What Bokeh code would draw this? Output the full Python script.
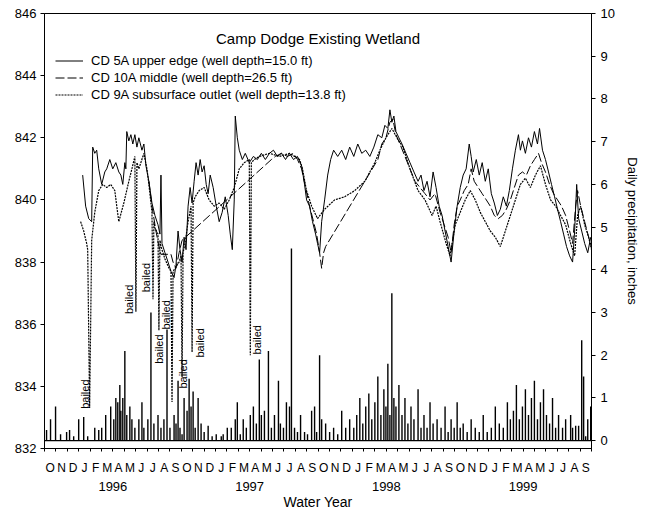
import math
from bokeh.plotting import figure
from bokeh.models import (Range1d, LinearAxis, FixedTicker, Label, Span, Legend,
                          LegendItem, Arrow)
from bokeh.embed import file_html
from bokeh.resources import INLINE

FONT = "Liberation Sans"

# ---------------- data (x = months since 1 Oct 1995) ----------------
month_letters = ["O", "N", "D", "J", "F", "M", "A", "M", "J", "J", "A", "S"]
water_years = ["1996", "1997", "1998", "1999"]

cd5a_m = [3.35, 3.61, 3.88, 4.14, 4.23, 4.41, 4.58, 4.76, 5.02, 5.29, 5.46, 5.73, 5.99, 6.26, 6.52,
          6.70, 6.87, 7.05, 7.14, 7.22, 7.40, 7.58, 7.75, 7.93, 8.11, 8.28, 8.55, 8.72, 8.90, 9.16,
          9.43, 9.69, 9.96, 10.13, 10.22, 10.31, 10.57, 10.84, 11.10, 11.37, 11.54, 11.72, 11.89,
          12.07, 12.25, 12.42, 12.60, 12.78, 12.95, 13.13, 13.30, 13.48, 13.66, 13.83, 14.01, 14.19,
          14.36, 14.54, 14.80, 15.07, 15.33, 15.59, 15.86, 16.12, 16.30, 16.48, 16.65, 16.74, 16.92,
          17.09, 17.36, 17.62, 17.97, 18.33, 18.68, 19.03, 19.38, 19.74, 20.09, 20.44, 20.79, 21.15,
          21.50, 21.85, 22.20, 22.56, 22.82, 23.00, 23.26, 23.52, 23.79, 23.96, 24.14, 24.32, 24.58,
          24.85, 25.11, 25.37, 25.73, 26.08, 26.43, 26.78, 27.14, 27.49, 27.84, 28.19, 28.55, 28.90,
          29.25, 29.60, 29.87, 30.13, 30.31, 30.48, 30.66, 30.84, 31.10, 31.37, 31.72, 32.07, 32.42,
          32.78, 33.04, 33.30, 33.57, 33.83, 34.10, 34.36, 34.63, 34.89, 35.15, 35.42, 35.68, 35.95,
          36.21, 36.48, 36.74, 37.00, 37.27, 37.44, 37.62, 37.89, 38.15, 38.41, 38.68, 38.94, 39.21,
          39.47, 39.74, 40.00, 40.26, 40.53, 40.79, 41.06, 41.32, 41.59, 41.76, 41.94, 42.20, 42.47,
          42.73, 42.99, 43.26, 43.44, 43.70, 43.96, 44.23, 44.49, 44.76, 45.02, 45.29, 45.55, 45.81,
          46.08, 46.34, 46.52, 46.70, 46.87, 47.14, 47.40, 47.67, 47.93]
cd5a_ft = [840.8, 839.8, 839.4, 839.3, 841.7, 841.5, 841.6, 841.0, 840.5, 840.9, 841.0, 841.3, 841.0,
           841.2, 840.9, 840.8, 840.5, 841.2, 841.0, 842.2, 841.9, 842.1, 841.8, 842.1, 841.7, 842.0,
           841.6, 841.8, 841.1, 840.6, 839.9, 839.5, 839.2, 838.9, 840.8, 838.6, 838.3, 838.0, 837.7,
           837.5, 837.9, 839.0, 838.4, 838.0, 838.8, 838.4, 839.8, 840.4, 839.9, 840.6, 841.2, 840.8,
           841.3, 840.9, 841.1, 840.5, 840.2, 840.8, 840.4, 839.8, 839.3, 839.6, 840.1, 839.5, 838.9,
           838.4, 840.0, 842.7, 842.0, 841.6, 841.3, 841.5, 841.2, 841.4, 841.3, 841.5, 841.3, 841.5,
           841.6, 841.4, 841.5, 841.3, 841.5, 841.3, 841.4, 841.1, 840.5, 840.0, 839.8, 839.3, 838.9,
           838.6, 838.3, 839.3, 840.0, 840.8, 841.3, 841.6, 841.4, 841.6, 841.3, 841.7, 841.4, 841.8,
           841.5, 841.6, 841.4, 841.7, 842.1, 842.0, 842.4, 842.3, 842.9, 842.5, 842.7, 842.2, 842.0,
           841.8, 841.5, 841.2, 840.9, 840.6, 840.8, 840.3, 840.6, 840.1, 840.9, 840.4, 839.8, 839.5,
           839.0, 838.5, 838.0, 839.0, 839.8, 840.4, 840.8, 841.0, 841.8, 841.4, 840.9, 841.3, 840.8,
           841.2, 840.6, 841.0, 840.2, 839.9, 839.5, 839.7, 840.1, 839.8, 840.3, 841.0, 841.6, 842.1,
           841.6, 841.9, 841.5, 842.0, 841.7, 842.2, 841.8, 842.3, 841.6, 841.3, 840.9, 840.5, 840.1,
           839.7, 839.3, 838.9, 838.5, 838.2, 838.0, 839.0, 840.5, 839.4, 839.0, 838.6, 838.3, 838.8]

cd10a_m = [9.16, 9.43, 9.78, 10.04, 10.22, 11.10, 11.28, 11.54, 11.81, 12.07, 19.91, 20.26, 20.79,
           21.32, 21.85, 22.20, 22.56, 22.91, 23.26, 23.61, 23.88, 24.14, 24.32, 24.49, 24.67, 29.25,
           29.60, 29.96, 30.31, 30.57, 30.84, 31.19, 31.63, 32.07, 32.51, 32.95, 33.39, 33.83, 34.27,
           34.71, 35.07, 35.42, 35.68, 35.95, 36.21, 36.48, 36.83, 37.18, 37.44, 37.71, 38.06, 38.41,
           38.77, 39.12, 39.47, 39.82, 40.18, 40.53, 40.88, 41.23, 41.59, 41.94, 42.29, 42.64, 42.99,
           43.35, 43.61, 43.96, 44.32, 44.67, 45.02, 45.37, 45.73, 46.08, 46.34, 46.61, 46.78, 47.05,
           47.40, 47.75, 48.00]
cd10a_ft = [840.6, 839.8, 839.0, 838.5, 838.25, 838.25, 838.0, 837.8, 838.3, 838.7, 841.3, 841.4,
            841.5, 841.4, 841.5, 841.3, 841.0, 840.4, 839.8, 839.3, 838.9, 838.3, 837.8, 838.3,
            838.5, 841.3, 841.8, 842.0, 842.5, 842.6, 842.1, 841.8, 841.4, 841.0, 840.6, 840.4,
            840.2, 840.0, 840.2, 839.6, 839.2, 838.8, 838.3, 839.2, 839.8, 840.0, 840.3, 840.5,
            841.0, 840.6, 840.4, 840.2, 840.0, 839.8, 839.5, 839.4, 839.5, 839.7, 840.0, 840.4,
            840.8, 840.9, 840.8, 841.1, 841.3, 841.5, 841.2, 840.9, 840.5, 840.2, 840.0, 839.8,
            839.5, 839.0, 838.6, 839.8, 840.3, 839.8, 839.3, 838.8, 838.5]

cd9a_m = [3.17, 3.44, 3.70, 3.79, 3.96, 4.14, 4.41, 4.76, 5.11, 5.46, 5.81, 6.17, 6.34, 6.52, 6.96,
          7.40, 7.67, 7.93, 8.02, 8.11, 8.28, 8.72, 8.99, 9.16, 9.43, 9.52, 9.60, 9.69, 9.96, 10.04,
          10.13, 10.22, 10.57, 10.93, 11.10, 11.19, 11.28, 11.45, 11.81, 11.98, 12.07, 12.16, 12.33,
          12.60, 12.86, 12.95, 13.04, 13.22, 13.57, 14.01, 14.45, 14.89, 15.33, 15.77, 16.21, 16.65,
          17.09, 17.53, 17.97, 18.06, 18.15, 18.41, 18.85, 19.74, 20.62, 21.50, 22.38, 22.64, 22.99,
          23.44, 23.96, 24.58, 25.46, 26.34, 27.22, 28.11, 28.99, 29.43, 29.96, 30.48, 30.93, 31.45,
          32.07, 32.78, 33.39, 34.01, 34.36, 34.71, 35.24, 35.59, 36.04, 36.48, 36.92, 37.36, 37.80,
          38.24, 38.68, 39.12, 39.56, 40.00, 40.44, 40.88, 41.32, 41.76, 42.20, 42.64, 43.08, 43.52,
          43.96, 44.41, 44.85, 45.29, 45.73, 46.17, 46.52, 46.78, 47.05, 47.40, 47.75, 48.00]
cd9a_ft = [839.3, 839.0, 838.6, 838.4, 833.3, 838.7, 839.6, 840.3, 840.5, 840.4, 840.5, 840.3, 839.8,
           839.3, 839.9, 840.6, 841.0, 841.4, 836.4, 841.2, 841.0, 841.5, 841.0, 840.5, 839.6, 836.8,
           839.3, 839.1, 838.9, 835.8, 838.7, 838.5, 838.1, 837.8, 837.7, 833.5, 837.7, 837.8, 838.0,
           838.2, 834.3, 838.3, 838.6, 839.3, 839.8, 835.1, 839.9, 840.1, 840.3, 840.4, 840.0, 839.8,
           839.9, 839.7, 840.0, 840.4, 841.0, 841.2, 841.3, 835.0, 841.2, 841.3, 841.4, 841.5, 841.4,
           841.5, 841.3, 841.0, 840.3, 839.8, 839.4, 839.7, 840.0, 840.1, 840.3, 840.6, 841.2, 841.6,
           842.0, 842.3, 842.0, 841.7, 841.0, 840.3, 840.0, 839.5, 839.8, 839.3, 838.6, 838.2, 839.2,
           839.6, 840.0, 840.3, 840.0, 839.6, 839.3, 839.0, 838.8, 838.5, 839.0, 839.5, 840.0, 840.5,
           840.7, 840.4, 840.8, 841.1, 840.5, 840.0, 839.8, 839.5, 839.2, 838.6, 838.2, 839.5, 839.8,
           839.2, 838.8, 838.4]

# bailing events (annotation anchor: month, ft)
bailed_m = [3.52, 7.40, 8.90, 10.04, 10.66, 12.16, 13.66, 18.68]
bailed_ft = [833.75, 836.8, 837.5, 835.2, 836.3, 834.4, 835.4, 835.5]

rain_m = [0.18, 0.53, 0.97, 1.41, 1.94, 2.20, 2.56, 3.00, 3.44, 3.79, 4.41, 4.76, 5.02, 5.37, 5.81,
          6.08, 6.26, 6.43, 6.61, 6.70, 6.87, 7.05, 7.22, 7.49, 7.67, 7.93, 8.28, 8.55, 8.72, 9.07,
          9.34, 9.60, 9.96, 10.22, 10.48, 10.75, 11.01, 11.37, 11.54, 11.72, 11.89, 12.07,
          12.25, 12.51, 12.69, 12.86, 13.04, 13.22, 13.48, 13.74, 14.01, 14.36, 14.71, 15.07, 15.51,
          15.68, 16.04, 16.39, 16.74, 16.92, 17.18, 17.44, 17.71, 18.06, 18.33, 18.59, 18.85, 19.03,
          19.30, 19.65, 19.91, 20.18, 20.53, 20.70, 20.97, 21.23, 21.50, 21.67, 21.94, 22.20, 22.47,
          22.82, 23.08, 23.44, 23.70, 23.88,
          24.14, 24.32, 24.67, 25.02, 25.37, 25.73, 26.08, 26.43, 26.78, 27.14, 27.40, 27.67, 27.93,
          28.19, 28.46, 28.72, 28.99, 29.25, 29.52, 29.78, 29.96, 30.13, 30.31, 30.48, 30.66, 30.84,
          31.10, 31.37, 31.63, 31.89, 32.16, 32.42, 32.78, 33.04, 33.30, 33.57, 33.83, 34.10, 34.45,
          34.80, 35.15, 35.42, 35.68, 35.95,
          36.21, 36.48, 36.74, 37.09, 37.44, 37.80, 38.15, 38.50, 38.85, 39.21, 39.56, 39.91, 40.26,
          40.62, 40.88, 41.15, 41.41, 41.67, 41.94, 42.20, 42.47, 42.73, 42.99, 43.26, 43.52, 43.79,
          44.05, 44.32, 44.58, 44.85, 45.11, 45.46, 45.73, 46.17, 46.34, 46.61, 46.87, 47.14, 47.31,
          47.49, 47.67, 47.93]
rain_in = [0.25, 0.5, 0.8, 0.15, 0.2, 0.25, 0.1, 0.5, 0.55, 0.1, 0.3, 0.25, 0.3, 0.6, 0.8,
           0.5, 1.0, 0.9, 1.3, 0.7, 1.0, 2.1, 0.6, 0.8, 0.5, 0.3, 0.5, 0.9, 0.3, 0.5,
           3.0, 0.4, 0.6, 0.3, 0.5, 2.6, 0.3, 0.6, 0.4, 1.4, 0.3, 0.15,
           1.0, 0.7, 1.45, 0.8, 1.15, 0.3, 1.0, 0.4, 0.2, 0.35, 0.1, 0.15, 0.1,
           0.15, 0.3, 0.3, 0.5, 0.9, 0.15, 0.5, 0.3, 0.6, 0.8, 0.4, 1.9, 0.6,
           0.7, 2.1, 0.3, 0.6, 1.4, 0.4, 0.3, 0.9, 0.8, 4.5, 0.3, 0.2, 0.6,
           0.2, 0.15, 0.7, 0.8, 0.2,
           2.0, 0.5, 0.4, 0.2, 0.3, 0.15, 0.7, 0.3, 0.5, 0.3, 0.6, 1.0, 0.4,
           0.8, 1.1, 0.5, 0.9, 1.5, 0.6, 1.2, 0.8, 1.8, 0.6, 3.45, 1.0, 0.8,
           1.3, 0.6, 1.0, 0.4, 0.8, 0.5, 1.2, 0.3, 0.6, 0.3, 0.9, 0.4, 0.5,
           0.3, 0.8, 0.2, 0.5, 0.3,
           0.9, 0.3, 0.4, 0.2, 0.5, 0.3, 0.2, 0.6, 0.2, 0.3, 0.8, 0.4, 0.3,
           0.9, 0.5, 0.7, 1.3, 0.5, 0.8, 1.2, 0.6, 1.0, 1.4, 0.5, 0.9, 1.2,
           0.6, 0.4, 1.0, 0.3, 0.6, 0.3, 0.5, 0.6, 0.3, 0.35, 0.35, 2.35, 1.5,
           0.1, 0.5, 0.8]

left_ticks = [832, 834, 836, 838, 840, 842, 844, 846]
right_ticks = [0, 1, 2, 3, 4, 5, 6, 7, 8, 9, 10]

# ---------------- figure ----------------
n_months = 12 * len(water_years)
p = figure(width=649, height=512, output_backend="svg", toolbar_location=None,
           x_range=Range1d(0, n_months), y_range=Range1d(832, 846),
           min_border_left=44, min_border_right=58, min_border_top=13, min_border_bottom=59)
p.extra_y_ranges = {"rain": Range1d(-0.185, 10)}
p.xgrid.visible = False
p.ygrid.visible = False
p.outline_line_color = "black"
p.outline_line_width = 1
p.background_fill_color = "white"
p.border_fill_color = "white"

# precipitation bars
p.segment(x0=rain_m, y0=[0] * len(rain_m), x1=rain_m, y1=rain_in, y_range_name="rain",
          line_color="black", line_width=1.4)
p.add_layout(Span(location=0, dimension="width", y_range_name="rain",
                  line_color="black", line_width=1.4))

# water levels
r5 = p.line(cd5a_m, cd5a_ft, line_color="black", line_width=1)
r10 = p.line(cd10a_m, cd10a_ft, line_color="black", line_width=1, line_dash="9 3")
r9 = p.line(cd9a_m, cd9a_ft, line_color="black", line_width=1.2, line_dash="2 1")


def style_axis(ax, size="13px"):
    ax.axis_line_color = "black"
    ax.major_tick_line_color = "black"
    ax.minor_tick_line_color = "black"
    ax.major_label_text_font = FONT
    ax.major_label_text_font_size = size
    ax.major_label_text_color = "black"
    ax.axis_label_text_font = FONT
    ax.axis_label_text_font_style = "normal"
    ax.axis_label_text_color = "black"


# left axis
ya = p.yaxis[0]
style_axis(ya)
ya.ticker = FixedTicker(ticks=left_ticks)
ya.major_tick_out = 4
ya.major_tick_in = 0
ya.minor_tick_out = 0
ya.minor_tick_in = 0
ya.major_label_standoff = 4

# right axis
ra = LinearAxis(y_range_name="rain", ticker=FixedTicker(ticks=right_ticks),
                axis_label="Daily precipitation, inches")
style_axis(ra)
ra.major_tick_out = 4
ra.major_tick_in = 0
ra.minor_tick_out = 0
ra.minor_tick_in = 0
ra.major_label_standoff = 5
ra.axis_label_text_font_size = "13px"
ra.axis_label_standoff = 7
p.add_layout(ra, "right")

# bottom axis: month letters with month-boundary ticks
centers = [i + 0.5 for i in range(n_months)]
bounds = list(range(n_months + 1))
xa = p.xaxis[0]
style_axis(xa, "12px")
xa.ticker = FixedTicker(ticks=centers, minor_ticks=bounds)
xa.major_label_overrides = {c: month_letters[i % 12] for i, c in enumerate(centers)}
xa.major_tick_out = 0
xa.major_tick_in = 0
xa.minor_tick_out = 3
xa.minor_tick_in = 0
xa.major_label_standoff = 9

# second bottom axis: water year labels
ya2 = LinearAxis(ticker=FixedTicker(ticks=[6 + 12 * i for i in range(len(water_years))]),
                 axis_label="Water Year")
style_axis(ya2)
ya2.major_label_overrides = {6 + 12 * i: w for i, w in enumerate(water_years)}
ya2.axis_line_color = None
ya2.major_tick_line_color = None
ya2.minor_tick_line_color = None
ya2.major_tick_out = 0
ya2.minor_tick_out = 0
ya2.major_label_standoff = 4
ya2.axis_label_text_font_size = "14px"
ya2.axis_label_standoff = 0
p.add_layout(ya2, "below")

# long ticks at water-year boundaries (below the axis)
tick_len_ft = 10 * (846 - 832) / 440.0
for b in range(12, n_months, 12):
    p.add_layout(Arrow(end=None, x_start=b, y_start=832, x_end=b, y_end=832 - tick_len_ft,
                       line_color="black", line_width=1))

# title inside plot
p.add_layout(Label(x=n_months / 2, y=845.2, text="Camp Dodge Existing Wetland",
                   text_font=FONT, text_font_size="15px", text_align="center",
                   text_baseline="middle", text_color="black"))

# "bailed" annotations
for bm, bf in zip(bailed_m, bailed_ft):
    p.add_layout(Label(x=bm, y=bf, text="bailed", angle=math.pi / 2, text_font=FONT,
                       text_font_size="11px", text_align="center", text_baseline="middle",
                       text_color="black"))

# legend (location = bottom-left corner of the legend box, frame pixels)
legend = Legend(items=[
    LegendItem(label="CD 5A upper edge (well depth=15.0 ft)", renderers=[r5]),
    LegendItem(label="CD 10A middle (well depth=26.5 ft)", renderers=[r10]),
    LegendItem(label="CD 9A subsurface outlet (well depth=13.8 ft)", renderers=[r9]),
], location=(11, 345), orientation="vertical")
legend.border_line_color = None
legend.background_fill_alpha = 0
legend.padding = 0
legend.margin = 0
legend.spacing = 0
legend.glyph_width = 28
legend.glyph_height = 17
legend.label_height = 17
legend.label_standoff = 8
legend.label_text_font = FONT
legend.label_text_font_size = "13px"
legend.label_text_color = "black"
p.add_layout(legend, "center")

open("out.html", "w").write(file_html(p, INLINE))
